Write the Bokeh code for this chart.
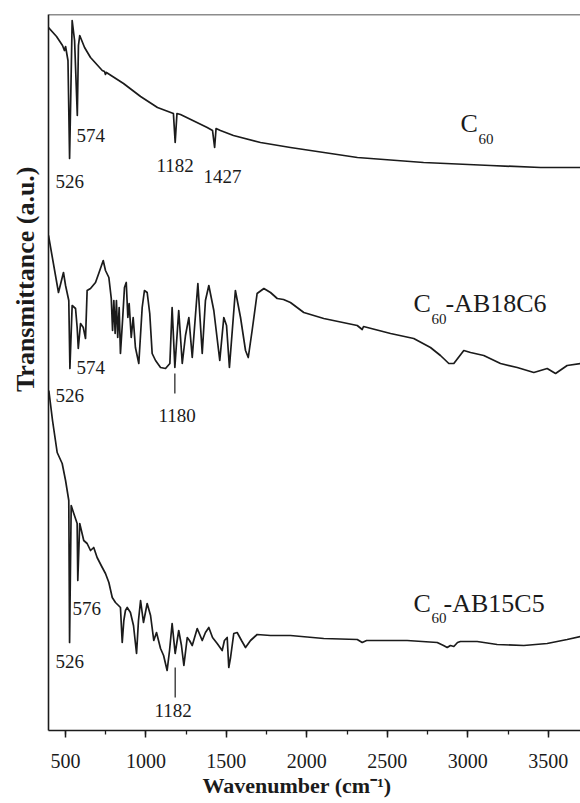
from bokeh.plotting import figure
from bokeh.models import Range1d, SingleIntervalTicker, FixedTicker, Span, Title
from bokeh.core.properties import value
from bokeh.embed import file_html
from bokeh.resources import INLINE

# ---------------- data (wavenumber in cm-1, transmittance in a.u., stacked) ----------------
wn_c60 = [395, 445, 482, 494, 501, 516, 526, 534, 542, 557, 574, 581, 589, 619, 656, 729, 743, 749, 755, 861,
          967, 1072, 1171, 1182, 1193, 1215, 1381, 1414, 1427, 1436, 1463, 1544, 1712, 1898, 2314, 2725, 3141, 3452, 3700]
t_c60 = [703, 694, 685, 680, 684, 670, 572, 640, 710, 690, 615, 685, 695, 683, 673, 660, 659, 656, 658, 647,
         634, 623, 617, 588, 617, 616, 603, 600, 583, 602, 600, 595, 588, 583, 573, 568, 565, 563, 563]

wn_ab18 = [395, 457, 488, 501, 521, 528, 542, 563, 573, 580, 594, 611, 625, 635, 656, 687, 707, 735, 749, 770,
           785, 793, 801, 809, 817, 825, 834, 842, 855, 867, 878, 888, 896, 909, 921, 935, 956, 977, 991, 1008,
           1024, 1039, 1060, 1091, 1122, 1149, 1163, 1180, 1204, 1226, 1246, 1267, 1288, 1323, 1350, 1370, 1391, 1422, 1459, 1484,
           1501, 1519, 1556, 1588, 1619, 1636, 1660, 1691, 1733, 1774, 1816, 1855, 1898, 1981, 2105, 2313, 2344, 2352, 2520, 2664,
           2768, 2830, 2882, 2913, 2975, 3017, 3099, 3203, 3307, 3410, 3493, 3545, 3617, 3700]
t_ab18 = [495, 438, 458, 445, 430, 362, 425, 422, 403, 382, 407, 403, 392, 440, 442, 448, 457, 470, 460, 453,
          432, 400, 430, 397, 430, 393, 423, 377, 410, 443, 448, 413, 427, 393, 413, 383, 367, 423, 440, 438,
          417, 377, 370, 363, 362, 367, 423, 363, 420, 367, 395, 413, 373, 447, 377, 430, 445, 420, 370, 413,
          405, 363, 440, 413, 380, 373, 400, 437, 442, 438, 432, 431, 428, 418, 412, 405, 401, 404, 397, 392,
          383, 375, 367, 367, 380, 378, 375, 367, 363, 358, 362, 357, 365, 367]

wn_ab15 = [397, 420, 449, 480, 501, 521, 526, 536, 550, 573, 577, 589, 614, 635, 656, 676, 697, 729, 749, 770,
           791, 811, 830, 842, 853, 863, 873, 884, 904, 923, 942, 954, 967, 985, 1008, 1029, 1049, 1066, 1091, 1110,
           1132, 1147, 1163, 1182, 1204, 1221, 1236, 1257, 1271, 1288, 1319, 1350, 1370, 1391, 1414, 1443, 1474, 1488, 1505, 1515,
           1526, 1546, 1567, 1594, 1619, 1650, 1691, 1774, 1898, 2105, 2313, 2344, 2371, 2623, 2810, 2849, 2872, 2892, 2913, 2936,
           2954, 3058, 3141, 3182, 3348, 3493, 3617, 3700]
t_ab15 = [340, 310, 278, 267, 250, 230, 88, 225, 218, 207, 150, 207, 190, 187, 180, 183, 173, 163, 157, 148,
          133, 128, 125, 123, 88, 110, 120, 123, 118, 105, 77, 110, 130, 108, 127, 115, 90, 98, 82, 75,
          60, 80, 107, 77, 100, 85, 65, 93, 90, 85, 102, 90, 98, 103, 93, 87, 80, 90, 93, 63,
          73, 97, 98, 90, 83, 90, 96, 95, 95, 92, 91, 88, 90, 90, 88, 85, 83, 85, 84, 88,
          89, 89, 87, 86, 85, 87, 91, 94]

# peak annotations
peak_text = ["526", "574", "1182", "1427", "574", "526", "1180", "576", "526", "1182"]
peak_wn = [438, 569, 1066, 1358, 569, 438, 1078, 544, 438, 1054]
peak_t = [549, 595, 565, 554, 363, 335, 315, 122, 69, 20]

marker_wn = [1180, 1182]
marker_t_top = [357, 63]
marker_t_bot = [337, 33]

# series names: "C" + subscript "60" + rest
name_c_wn = [2954, 2662, 2662]
name_c_t = [607, 427, 127]
name_sub = ["60", "60", "60"]
name_sub_wn = [3066, 2774, 2774]
name_sub_t = [592, 412, 113]
name_rest = ["-AB18C6", "-AB15C5"]
name_rest_wn = [2861, 2849]
name_rest_t = [427, 127]

x_ticks_interval = 500

SERIF = "Liberation Serif"
INK = "#1b1b1b"

p = figure(width=580, height=798, output_backend="svg", toolbar_location=None,
           x_range=Range1d(395, 3700), y_range=Range1d(0, 716),
           min_border_left=48, min_border_right=0, min_border_top=14, min_border_bottom=68)
p.outline_line_color = None
p.xgrid.visible = False
p.ygrid.visible = False
p.background_fill_color = "white"
p.border_fill_color = "white"

for xs, ys in [(wn_c60, t_c60), (wn_ab18, t_ab18), (wn_ab15, t_ab15)]:
    p.line(xs, ys, line_color=INK, line_width=1.7, line_join="round")

p.segment(x0=marker_wn, y0=marker_t_top, x1=marker_wn, y1=marker_t_bot, line_color=INK, line_width=1.2)

p.text(x=peak_wn, y=peak_t, text=peak_text, text_font=value(SERIF), text_font_size="19px",
       text_align="left", text_baseline="middle", text_color=INK)

p.text(x=name_c_wn, y=name_c_t, text=["C", "C", "C"], text_font=value(SERIF), text_font_size="26px",
       text_align="left", text_baseline="middle", text_color=INK)
p.text(x=name_sub_wn, y=name_sub_t, text=name_sub, text_font=value(SERIF), text_font_size="15px",
       text_align="left", text_baseline="middle", text_color=INK)
p.text(x=name_rest_wn, y=name_rest_t, text=name_rest, text_font=value(SERIF), text_font_size="26px",
       text_align="left", text_baseline="middle", text_color=INK)

# x axis
xa = p.xaxis[0]
xa.ticker = SingleIntervalTicker(interval=x_ticks_interval, num_minor_ticks=2)
xa.axis_line_width = 1.6
xa.axis_line_color = INK
xa.major_tick_line_width = 1.5
xa.major_tick_line_color = INK
xa.minor_tick_line_width = 1.3
xa.minor_tick_line_color = INK
xa.major_tick_in = 0
xa.major_tick_out = 7
xa.minor_tick_in = 0
xa.minor_tick_out = 4
xa.major_label_text_font = SERIF
xa.major_label_text_font_size = "20px"
xa.major_label_text_color = INK
xa.major_label_standoff = 16

# x axis title, placed left of centre as in the original
p.add_layout(Title(text="Wavenumber (cm\u207b\u00b9)", align="left", offset=154,
                   text_font=SERIF, text_font_style="bold", text_font_size="22px",
                   text_color=INK, standoff=0), "below")

# y axis: line only
ya = p.yaxis[0]
ya.ticker = FixedTicker(ticks=[])
ya.axis_line_width = 1.6
ya.axis_line_color = INK
ya.major_tick_out = 0
ya.major_tick_in = 0
ya.minor_tick_out = 0
ya.minor_tick_in = 0
ya.major_label_text_font_size = "0px"

# top frame border
p.add_layout(Span(location=716, dimension="width", line_color=INK, line_width=1.6))

# y axis title (aligned toward the top, as in the original)
p.add_layout(Title(text="Transmittance (a.u.)", align="right", offset=152,
                   text_font=SERIF, text_font_style="bold", text_font_size="26px",
                   text_color=INK, standoff=17), "left")

open("out.html", "w").write(file_html(p, INLINE))
